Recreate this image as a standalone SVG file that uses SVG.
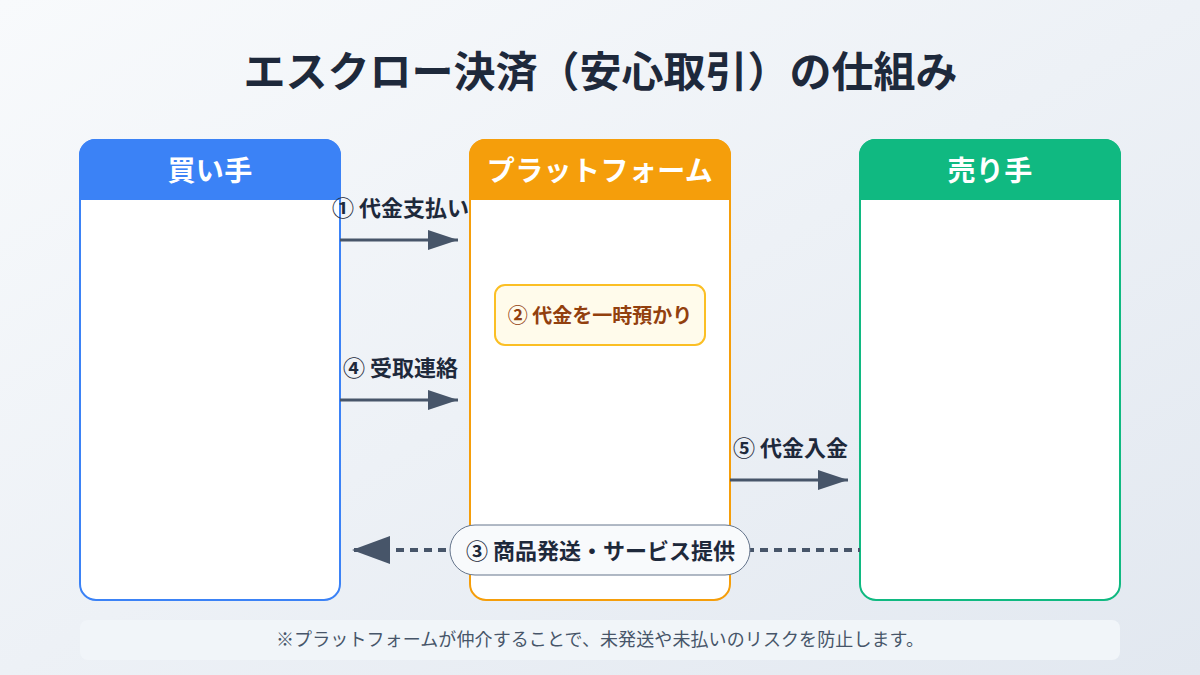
<svg xmlns="http://www.w3.org/2000/svg" width="1200" height="675" viewBox="0 0 1200 675">
<style>
text{font-family:"Noto Sans CJK JP","Noto Sans CJK SC",sans-serif;text-anchor:middle}
.h{font-size:28px;font-weight:700;fill:#fff;letter-spacing:.4px}
.l{font-size:22px;font-weight:700;fill:#1e293b}
.body{fill:#fff;stroke-width:2}
.c{fill:none;stroke:#475569;stroke-width:3}
.d{fill:none;stroke:#475569;stroke-width:4;stroke-dasharray:8 6}
</style>
<defs>
<linearGradient id="bg" x1="0" y1="0" x2="1" y2="1"><stop offset="0" stop-color="#f8fafc"/><stop offset="1" stop-color="#e2e8f0"/></linearGradient>
<marker id="a" markerUnits="userSpaceOnUse" markerWidth="30" markerHeight="20" refX="30" refY="10" orient="auto"><path d="M0 0L30 10L0 20Z" fill="#475569"/></marker>
<marker id="b" markerUnits="userSpaceOnUse" markerWidth="40" markerHeight="30" refX="2" refY="14" orient="0"><path d="M0 14L38 0V28Z" fill="#475569"/></marker>
</defs>
<rect width="1200" height="675" fill="url(#bg)"/>
<text x="600.5" y="87" font-size="42" font-weight="700" fill="#1e293b">エスクロー決済（安心取引）の仕組み</text>
<g id="buyer">
<rect class="body" x="80" y="140" width="260" height="460" rx="16" stroke="#3b82f6"/>
<path d="M79 200V155a16 16 0 0 1 16-16H325a16 16 0 0 1 16 16V200Z" fill="#3b82f6"/>
<text class="h" x="210" y="181">買い手</text>
</g>
<g id="platform">
<rect class="body" x="470" y="140" width="260" height="460" rx="16" stroke="#f59e0b"/>
<path d="M469 200V155a16 16 0 0 1 16-16H715a16 16 0 0 1 16 16V200Z" fill="#f59e0b"/>
<text class="h" x="600" y="181">プラットフォーム</text>
</g>
<g id="seller">
<rect class="body" x="860" y="140" width="260" height="460" rx="16" stroke="#10b981"/>
<path d="M859 200V155a16 16 0 0 1 16-16H1105a16 16 0 0 1 16 16V200Z" fill="#10b981"/>
<text class="h" x="990" y="181">売り手</text>
</g>
<g id="hold">
<rect x="495" y="285" width="210" height="60" rx="10" fill="#fffbeb" stroke="#fbbf24" stroke-width="2"/>
<text x="600" y="323" font-size="20" font-weight="700" fill="#92400e">② 代金を一時預かり</text>
</g>
<g id="connectors">
<path class="c" d="M340 240H458" marker-end="url(#a)"/>
<path class="c" d="M340 400H458" marker-end="url(#a)"/>
<path class="c" d="M730 480H848" marker-end="url(#a)"/>
<path class="d" d="M354 550H860" marker-start="url(#b)"/>
</g>
<text class="l" x="400.5" y="216">① 代金支払い</text>
<text class="l" x="400.5" y="376">④ 受取連絡</text>
<text class="l" x="790.5" y="456">⑤ 代金入金</text>
<g id="ship">
<rect x="450" y="525" width="300" height="50" rx="25" fill="#f8fafc" stroke="#64748b" stroke-width="1"/>
<text class="l" x="600.5" y="559">③ 商品発送・サービス提供</text>
</g>
<g id="note">
<rect x="80" y="620" width="1040" height="40" rx="8" fill="#f1f5f9"/>
<text x="600" y="646" font-size="18" fill="#475569" letter-spacing=".1">※プラットフォームが仲介することで、未発送や未払いのリスクを防止します。</text>
</g>
</svg>
